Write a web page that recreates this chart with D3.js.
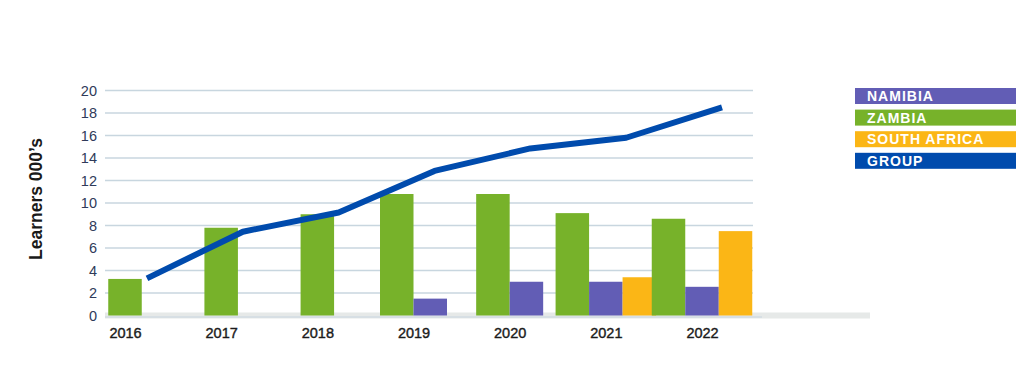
<!DOCTYPE html>
<html>
<head>
<meta charset="utf-8">
<script src="https://cdn.jsdelivr.net/npm/d3@7"></script>
<style>
    html, body { margin: 0; padding: 0; background: #fff; }
    #chart { width: 1029px; height: 367px; }
    text { font-family: "Liberation Sans", Arial, sans-serif; }
</style>
</head>
<body>
<div id="chart"></div>
<script>
const years = ['2016', '2017', '2018', '2019', '2020', '2021', '2022'];
const zambia = [3.25, 7.8, 9.0, 10.8, 10.8, 9.1, 8.6];
const namibia = [null, null, null, 1.5, 3.0, 3.0, 2.55];
const southAfrica = [null, null, null, null, null, 3.4, 7.5];
const group = [3.3, 7.45, 9.15, 12.85, 14.85, 15.8, 18.5];
const yTicks = [0, 2, 4, 6, 8, 10, 12, 14, 16, 18, 20];
const legendLabels = ['NAMIBIA', 'ZAMBIA', 'SOUTH AFRICA', 'GROUP'];
const yTitle = 'Learners 000\u2019s';

const colors = {
    zambia: '#77b22a',
    namibia: '#625db5',
    southAfrica: '#fbb616',
    group: '#004bad'
};

class BarLineChart {
    constructor(selector) {
        this.width = 1029;
        this.height = 367;
        this.svg = d3.select(selector)
            .append('svg')
            .attr('width', this.width)
            .attr('height', this.height);

        this.plot = { left: 105, right: 753, top: 90.5, bottom: 315.5 };
        this.barWidth = 33.5;

        this.y = d3.scaleLinear()
            .domain([0, 20])
            .range([this.plot.bottom, this.plot.top]);
        // group centres of the bar clusters
        this.x = d3.scalePoint()
            .domain(years)
            .range([125, 702]);
        // the group line sits a little right of the clusters
        this.xLine = d3.scalePoint()
            .domain(years)
            .range([147, 722]);

        this.series = [
            { key: 'zambia', values: zambia },
            { key: 'namibia', values: namibia },
            { key: 'southAfrica', values: southAfrica }
        ];

        this._drawGrid();
        this._drawBars();
        this._drawLine();
        this._drawAxes();
        this._drawLegend();
    }

    _drawGrid() {
        const p = this.plot;
        const grid = this.svg.append('g').attr('class', 'grid');

        grid.selectAll('line')
            .data(yTicks.filter((t) => t > 0))
            .enter().append('line')
            .attr('x1', p.left)
            .attr('x2', p.right)
            .attr('y1', (d) => this.y(d))
            .attr('y2', (d) => this.y(d))
            .attr('stroke', '#c8d6df')
            .attr('stroke-width', 1.5);

        /* light floor band under the bars */
        grid.append('rect')
            .attr('x', p.left)
            .attr('y', this.y(0) - 3)
            .attr('width', 870 - p.left)
            .attr('height', 6)
            .attr('fill', '#e6e9e8');

        grid.append('line')
            .attr('x1', p.left)
            .attr('x2', 762)
            .attr('y1', this.y(0) + 1.5)
            .attr('y2', this.y(0) + 1.5)
            .attr('stroke', '#c8d6df')
            .attr('stroke-width', 1.2);
    }

    _drawBars() {
        const bars = [];
        years.forEach((year, i) => {
            const present = this.series.filter((s) => s.values[i] != null);
            const inner = d3.scaleBand()
                .domain(present.map((s) => s.key))
                .range([
                    this.x(year) - present.length * this.barWidth / 2,
                    this.x(year) + present.length * this.barWidth / 2
                ]);
            present.forEach((s) => {
                bars.push({ key: s.key, value: s.values[i], x: inner(s.key), w: inner.bandwidth() });
            });
        });

        this.svg.append('g')
            .attr('class', 'bars')
            .selectAll('rect')
            .data(bars)
            .enter().append('rect')
            .attr('x', (d) => d.x)
            .attr('width', (d) => d.w)
            .attr('y', (d) => this.y(d.value))
            .attr('height', (d) => this.y(0) - this.y(d.value))
            .attr('fill', (d) => colors[d.key]);
    }

    _drawLine() {
        const line = d3.line()
            .x((d, i) => this.xLine(years[i]))
            .y((d) => this.y(d));

        this.svg.append('path')
            .datum(group)
            .attr('d', line)
            .attr('fill', 'none')
            .attr('stroke', colors.group)
            .attr('stroke-width', 6)
            .attr('stroke-linejoin', 'round');
    }

    _drawAxes() {
        const yAxis = this.svg.append('g')
            .attr('transform', `translate(${this.plot.left - 8},0)`)
            .call(d3.axisLeft(this.y).tickValues(yTicks).tickSize(0).tickPadding(0));
        yAxis.select('.domain').remove();
        yAxis.selectAll('text')
            .attr('font-family', '"Liberation Sans", Arial, sans-serif')
            .attr('font-size', 14.5)
            .attr('fill', '#2f3b5a');

        const xAxis = this.svg.append('g')
            .attr('transform', `translate(0,${this.plot.bottom + 8})`)
            .call(d3.axisBottom(this.x).tickSize(0).tickPadding(4));
        xAxis.select('.domain').remove();
        xAxis.selectAll('text')
            .attr('font-family', '"Liberation Sans", Arial, sans-serif')
            .attr('font-size', 14.5)
            .attr('fill', '#1c1c1c')
            .attr('stroke', '#1c1c1c')
            .attr('stroke-width', 0.4);

        this.svg.append('text')
            .attr('transform', `translate(42,${(this.plot.top + this.plot.bottom) / 2 - 4}) rotate(-90)`)
            .attr('text-anchor', 'middle')
            .attr('font-size', 17.5)
            .attr('font-weight', 'bold')
            .attr('fill', '#1a1a1a')
            .text(yTitle);
    }

    _drawLegend() {
        const keys = ['namibia', 'zambia', 'southAfrica', 'group'];
        const legend = this.svg.append('g')
            .attr('class', 'legend')
            .attr('transform', 'translate(855,88)');

        const rows = legend.selectAll('g')
            .data(legendLabels)
            .enter().append('g')
            .attr('transform', (d, i) => `translate(0,${i * 21.6})`);

        rows.append('rect')
            .attr('width', 161)
            .attr('height', 16)
            .attr('fill', (d, i) => colors[keys[i]]);

        rows.append('text')
            .attr('x', 12)
            .attr('y', 13)
            .attr('font-size', 14)
            .attr('font-weight', 'bold')
            .attr('letter-spacing', 1)
            .attr('fill', '#fff')
            .text((d) => d);
    }
}

new BarLineChart('#chart');
</script>
</body>
</html>
